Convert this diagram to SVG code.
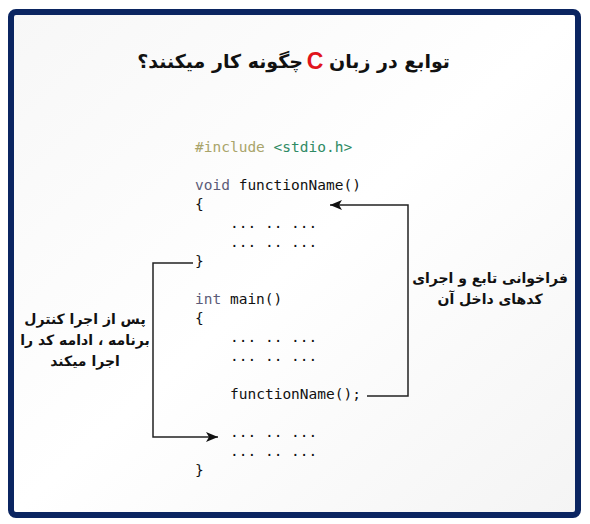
<svg xmlns="http://www.w3.org/2000/svg" width="590" height="524" viewBox="0 0 590 524">
<defs>
<linearGradient id="bg" x1="0" y1="0" x2="1" y2="1">
<stop offset="0" stop-color="#f7f7f7"/>
<stop offset="0.5" stop-color="#ffffff"/>
<stop offset="1" stop-color="#f4f4f4"/>
</linearGradient>
<marker id="ah" viewBox="0 0 12 10" refX="12" refY="5" markerWidth="12" markerHeight="10" markerUnits="userSpaceOnUse" orient="auto">
<path d="M0,0 L12,5 L0,10 L3,5 Z" fill="#111"/>
</marker>
<style>
.code{font-family:"DejaVu Sans Mono","Liberation Mono",monospace;font-size:14.5px;fill:#111;}
.kw{fill:#5b5b78;}
.pp{fill:#a9a46a;}
.inc{fill:#2f8a64;}
.fa{font-family:"DejaVu Sans","Noto Sans",sans-serif;font-weight:bold;fill:#111;}
.lbl{font-size:14px;text-anchor:middle;direction:rtl;}
.conn{fill:none;stroke:#222;stroke-width:1.5;}
</style>
</defs>
<rect x="11" y="12" width="567" height="503" rx="5" fill="url(#bg)" stroke="#0b2561" stroke-width="6"/>
<g id="title">
<text class="fa" x="450" y="68" font-size="19" text-anchor="start" direction="rtl">توابع در زبان</text>
<text x="315" y="69" font-size="23" font-weight="bold" fill="#e0141c" text-anchor="middle" font-family="Liberation Sans, Arial, sans-serif">C</text>
<text class="fa" x="303" y="68" font-size="19" text-anchor="start" direction="rtl">چگونه کار میکنند؟</text>
</g>
<g id="code">
<text class="code" x="195" y="152"><tspan class="pp">#include</tspan> <tspan class="inc">&lt;stdio.h&gt;</tspan></text>
<text class="code" x="195" y="190"><tspan class="kw">void</tspan> functionName()</text>
<text class="code" x="195" y="209">{</text>
<text class="code" x="230" y="228">... .. ...</text>
<text class="code" x="230" y="247">... .. ...</text>
<text class="code" x="195" y="266">}</text>
<text class="code" x="195" y="304"><tspan class="kw">int</tspan> main()</text>
<text class="code" x="195" y="323">{</text>
<text class="code" x="230" y="342">... .. ...</text>
<text class="code" x="230" y="361">... .. ...</text>
<text class="code" x="230" y="399">functionName();</text>
<text class="code" x="230" y="437">... .. ...</text>
<text class="code" x="230" y="456">... .. ...</text>
<text class="code" x="195" y="475">}</text>
</g>
<g id="connectors">
<path class="conn" d="M367,396 H408 V205 H330" marker-end="url(#ah)"/>
<path class="conn" d="M193,263 H153 V437 H218" marker-end="url(#ah)"/>
</g>
<g id="label-call">
<text class="fa lbl" x="490" y="283">فراخوانی تابع و اجرای</text>
<text class="fa lbl" x="490" y="304">کدهای  داخل آن</text>
</g>
<g id="label-return">
<text class="fa lbl" x="85" y="324">پس از اجرا کنترل</text>
<text class="fa lbl" x="85" y="345">برنامه ، ادامه کد را</text>
<text class="fa lbl" x="85" y="366">اجرا میکند</text>
</g>
</svg>
